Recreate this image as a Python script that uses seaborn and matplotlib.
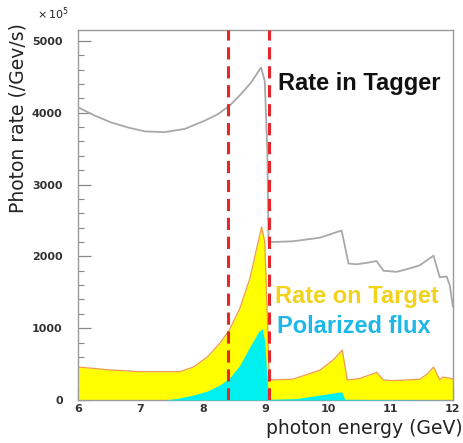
import matplotlib
matplotlib.use("Agg")
import matplotlib.pyplot as plt
import seaborn as sns
import pandas as pd
from matplotlib.ticker import MultipleLocator

# Photon rate in the tagger (x 10^5 per GeV per s)
tagger_e = [6.0, 6.27, 6.53, 6.8, 7.07, 7.39, 7.71, 8.03, 8.24, 8.43, 8.61, 8.77,
            8.93, 8.99, 9.03, 9.05, 9.13, 9.44, 9.87, 10.22, 10.33, 10.46, 10.62,
            10.78, 10.89, 11.10, 11.26, 11.47, 11.69, 11.79, 11.9, 11.95, 12.0]
tagger_rate = [4075, 3960, 3865, 3795, 3740, 3730, 3775, 3890, 3980, 4100, 4260,
               4420, 4630, 4440, 3470, 2200, 2200, 2210, 2260, 2360, 1900, 1890,
               1910, 1935, 1800, 1785, 1820, 1875, 2010, 1710, 1720, 1600, 1300]

# Photon rate on target
target_e = [6.0, 6.5, 7.0, 7.63, 7.85, 8.07, 8.27, 8.42, 8.59, 8.75, 8.86, 8.94,
            8.99, 9.03, 9.06, 9.1, 9.44, 9.87, 10.08, 10.23, 10.31, 10.51, 10.78,
            10.89, 11.05, 11.47, 11.6, 11.69, 11.79, 11.84, 11.98, 12.0]
target_rate = [460, 420, 395, 395, 460, 600, 790, 970, 1275, 1690, 2110, 2410,
               2200, 1180, 300, 280, 290, 415, 555, 695, 280, 300, 385, 280, 270,
               290, 370, 460, 280, 320, 300, 290]

# Polarized flux
pol_e = [6.0, 7.4, 7.6, 7.85, 8.07, 8.27, 8.42, 8.59, 8.75, 8.89, 8.95, 8.99,
         9.03, 9.05, 9.1, 9.5, 9.87, 10.22, 10.27, 10.5, 11.0, 12.0]
pol_rate = [0, 0, 25, 70, 125, 210, 300, 485, 740, 950, 995, 810, 255, 15, 10,
            20, 70, 115, 10, 8, 5, 0]

# Coherent peak window
window_edges = [8.4, 9.05]

x_ticks = [6, 7, 8, 9, 10, 11, 12]
y_ticks = [0, 1000, 2000, 3000, 4000, 5000]

sns.set_style("white")
plt.rcParams["font.family"] = ["DejaVu Sans"]

fig = plt.figure(figsize=(4.64, 4.43), dpi=100)
ax = fig.add_axes([0.168, 0.097, 0.808, 0.835])

tagger = pd.DataFrame({"E": tagger_e, "rate": tagger_rate})
target = pd.DataFrame({"E": target_e, "rate": target_rate})
pol = pd.DataFrame({"E": pol_e, "rate": pol_rate})

ax.fill_between(target["E"], 0, target["rate"], color="#FFFF00", lw=0, zorder=1)
sns.lineplot(data=target, x="E", y="rate", estimator=None, sort=False,
             color="#F39A4A", lw=0.9, ax=ax, zorder=2)
ax.fill_between(pol["E"], 0, pol["rate"], color="#00F0F0", lw=0, zorder=3)
sns.lineplot(data=tagger, x="E", y="rate", estimator=None, sort=False,
             color="#A8A8A8", lw=1.3, ax=ax, zorder=4)

for xv in window_edges:
    ax.axvline(xv, color="#E8262A", lw=2.2, ls=(0, (4, 2.2)), zorder=5)

ax.set_xlim(6, 12)
ax.set_ylim(0, 5150)
ax.set_xticks(x_ticks)
ax.set_yticks(y_ticks)
ax.set_xticklabels([str(v) for v in x_ticks], fontsize=8, fontweight="bold")
ax.set_yticklabels([str(v) for v in y_ticks], fontsize=8, fontweight="bold")
ax.xaxis.set_minor_locator(MultipleLocator(0.2))
ax.yaxis.set_minor_locator(MultipleLocator(200))
ax.tick_params(axis="both", which="major", direction="in", length=9, width=0.9,
               color="#888888", labelcolor="#333333", bottom=True, left=True)
ax.tick_params(axis="both", which="minor", direction="in", length=4.5, width=0.8,
               color="#888888", bottom=True, left=True)
ax.tick_params(axis="y", which="major", pad=11)
ax.tick_params(axis="x", which="major", pad=3)
for sp in ax.spines.values():
    sp.set_color("#9A9A9A")
    sp.set_linewidth(1.0)

ax.set_xlabel("")
ax.set_ylabel("")
fig.text(0.997, 0.033, "photon energy (GeV)", ha="right", va="center",
         fontsize=13.5, color="#222222")
fig.text(0.038, 0.734, "Photon rate (/Gev/s)", ha="center", va="center",
         rotation=90, fontsize=13.5, color="#222222")
fig.text(0.08, 0.968, r"$\times\,10^5$", ha="left", va="center", fontsize=8,
         color="#222222", fontweight="bold")

label_font = ["Liberation Sans Narrow", "Liberation Sans", "DejaVu Sans"]
ax.text(9.2, 4400, "Rate in Tagger", fontsize=17, fontweight="bold",
        family=label_font, color="#111111", ha="left", va="center")
ax.text(9.15, 1440, "Rate on Target", fontsize=17, fontweight="bold",
        family=label_font, color="#F2D21B", ha="left", va="center")
ax.text(9.18, 1020, "Polarized flux", fontsize=17, fontweight="bold",
        family=label_font, color="#1EB8E8", ha="left", va="center")

fig.savefig("out.png", dpi=100)
